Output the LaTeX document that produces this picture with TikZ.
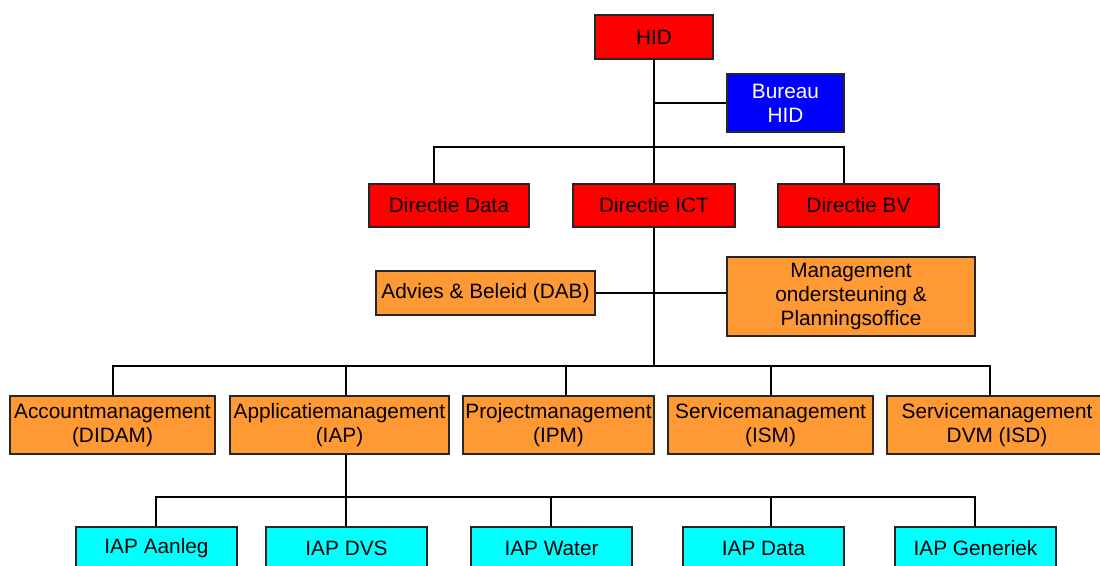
\documentclass[tikz,border=0pt]{standalone}
\usepackage{fontspec}
\setmainfont{Liberation Sans}
\definecolor{orgorange}{HTML}{FF9933}
\definecolor{orgcyan}{HTML}{00FFFF}
\definecolor{orgred}{HTML}{FF0000}
\definecolor{orgblue}{HTML}{0000FF}
\tikzset{
  box/.style={draw=black!85, line width=1.1pt, inner sep=0pt, align=center,
    font=\fontsize{20.8}{24}\selectfont},
  redbox/.style={box, fill=orgred, minimum height=44pt},
  orbox/.style={box, fill=orgorange},
  cybox/.style={box, fill=orgcyan, minimum width=161pt, minimum height=43pt},
  conn/.style={draw=black, line width=2pt}
}
\begin{document}
\begin{tikzpicture}[x=1pt,y=-1pt]
\useasboundingbox (0,0) rectangle (1100,565);
\clip (0,0) rectangle (1100,565);
\fill[white] (0,0) rectangle (1100,565);
% level 1
\node[redbox, minimum width=118pt] (hid) at (654,37) {HID};
\node[box, fill=orgblue, text=white, minimum width=117pt, minimum height=58pt] (bureau) at (785.5,103) {Bureau\\HID};
% level 2
\node[redbox, minimum width=160pt, minimum height=43pt] (data) at (449,205.5) {Directie Data};
\node[redbox, minimum width=162pt, minimum height=43pt] (ict) at (654,205.5) {Directie ICT};
\node[redbox, minimum width=161pt, minimum height=43pt] (bv) at (858.5,205.5) {Directie BV};
% staff
\node[orbox, minimum width=219pt, minimum height=44pt] (adv) at (485.5,293) {Advies \& Beleid (DAB)};
\node[orbox, minimum width=248pt, minimum height=79pt] (mgmt) at (851,296.5) {Management\\ondersteuning \&\\Planningsoffice};
% level 3
\node[orbox, minimum width=205pt, minimum height=58pt] (acc) at (112.5,425) {Accountmanagement\\(DIDAM)};
\node[orbox, minimum width=219pt, minimum height=58pt] (app) at (339.5,425) {Applicatiemanagement\\(IAP)};
\node[orbox, minimum width=191pt, minimum height=58pt] (prj) at (558.5,425) {Projectmanagement\\(IPM)};
\node[orbox, minimum width=205pt, minimum height=58pt] (ism) at (770.5,425) {Servicemanagement\\(ISM)};
\node[orbox, minimum width=220pt, minimum height=58pt] (dvm) at (997,425) {Servicemanagement\\DVM (ISD)};
% level 4
\node[cybox] (aanleg) at (156.5,548.5) {IAP Aanleg};
\node[cybox] (dvs) at (346.5,548.5) {IAP DVS};
\node[cybox] (water) at (551.5,548.5) {IAP Water};
\node[cybox] (idata) at (763.5,548.5) {IAP Data};
\node[cybox] (gen) at (975.5,548.5) {IAP Generiek};
% junction coordinates
\coordinate (j1) at (654,147);
\coordinate (j2) at (654,366);
\coordinate (j3) at (346,497);
% connectors
\draw[conn] (hid.south) -- (ict.north);
\draw[conn] (hid.south |- bureau.west) -- (bureau.west);
\draw[conn] ([xshift=-15pt]data.north) |- (j1) -| ([xshift=-14.5pt]bv.north);
\draw[conn] (ict.south) -- (j2);
\draw[conn] (adv.east) -- (adv.east -| mgmt.west);
\draw[conn] ([xshift=0.5pt]acc.north) |- (j2) -| ([xshift=-7pt]dvm.north);
\draw[conn] ([xshift=6.5pt]app.north) -- ([xshift=6.5pt]app.north |- j2);
\draw[conn] ([xshift=7.5pt]prj.north) -- ([xshift=7.5pt]prj.north |- j2);
\draw[conn] ([xshift=0.5pt]ism.north) -- ([xshift=0.5pt]ism.north |- j2);
\draw[conn] ([xshift=6.5pt]app.south) -- (j3);
\draw[conn] ([xshift=-0.5pt]aanleg.north) |- (j3) -| ([xshift=-0.5pt]gen.north);
\draw[conn] ([xshift=-0.5pt]dvs.north) -- ([xshift=-0.5pt]dvs.north |- j3);
\draw[conn] ([xshift=-0.5pt]water.north) -- ([xshift=-0.5pt]water.north |- j3);
\draw[conn] ([xshift=7.5pt]idata.north) -- ([xshift=7.5pt]idata.north |- j3);
\end{tikzpicture}
\end{document}
